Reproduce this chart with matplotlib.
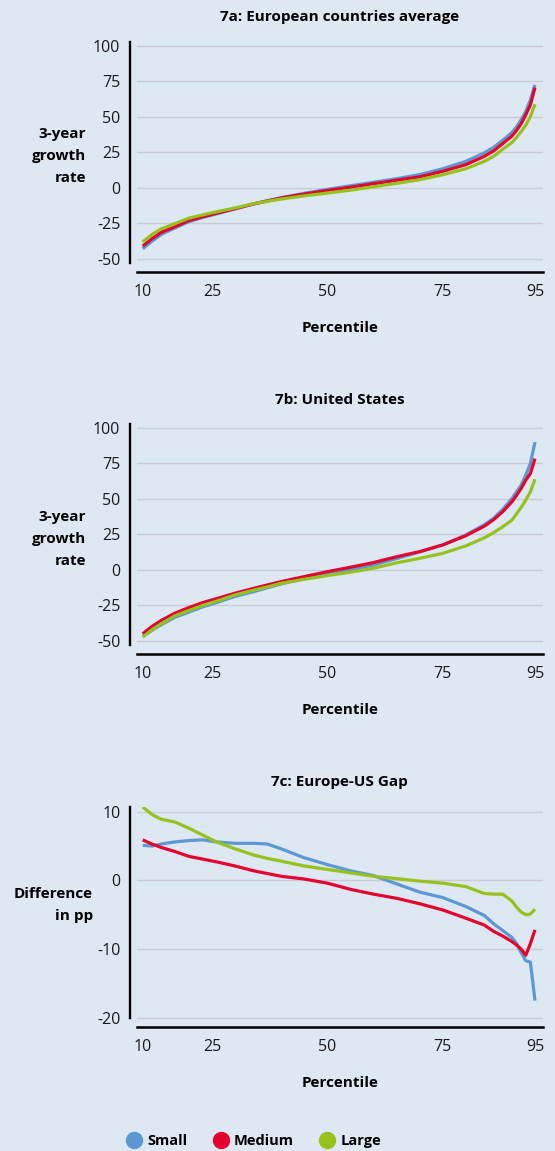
import matplotlib
matplotlib.use("Agg")
import matplotlib.pyplot as plt
from matplotlib.lines import Line2D

plt.rcParams['font.family'] = ['Open Sans', 'DejaVu Sans']
plt.rcParams['axes.unicode_minus'] = False

# percentiles shared by all panels
pct = [10, 12, 14, 17, 20, 23, 26, 30, 34, 37, 40, 45, 50, 55, 60, 65, 70,
       75, 80, 84, 86, 88, 90, 91, 92, 93, 94, 95]

# 7a: European countries average
eu_small = [-43.1, -37.7, -33.0, -28.3, -24.0, -21.0, -18.5, -15.0, -11.5, -9.2,
            -7.0, -4.0, -1.2, 1.3, 3.8, 6.3, 9.2, 13.3, 18.5, 24.5, 28.3, 33.3,
            38.8, 42.8, 47.8, 53.6, 61.8, 72.4]
eu_medium = [-41.2, -36.0, -31.5, -27.5, -23.2, -20.5, -18.0, -14.8, -11.5, -9.4,
             -7.3, -4.5, -2.0, 0.3, 2.8, 5.2, 7.6, 11.5, 16.2, 22.0, 25.8, 31.0,
             36.3, 40.3, 45.0, 51.3, 58.3, 70.5]
eu_large = [-38.2, -33.0, -29.0, -25.3, -21.5, -19.2, -17.0, -14.3, -11.3, -9.6,
            -8.0, -5.8, -3.8, -1.8, 0.6, 3.0, 5.6, 9.1, 13.3, 18.5, 22.0, 27.0,
            31.8, 35.3, 39.5, 44.0, 50.0, 58.8]

# 7b: United States
us_small = [-46.8, -42.6, -38.6, -33.3, -29.7, -26.0, -23.0, -18.7, -15.3, -12.6,
            -9.8, -6.3, -3.0, 0.0, 3.5, 8.0, 12.7, 17.6, 24.6, 31.8, 36.3, 42.6,
            50.3, 55.0, 59.7, 66.7, 75.0, 90.1]
us_medium = [-45.0, -39.8, -35.6, -30.4, -26.5, -23.0, -20.2, -16.4, -13.0, -10.6,
             -8.2, -4.7, -1.2, 1.9, 5.2, 9.3, 12.9, 17.6, 24.1, 30.8, 35.3, 41.0,
             48.0, 52.5, 57.4, 63.2, 67.9, 78.4]
us_large = [-47.3, -42.2, -37.9, -32.3, -28.6, -25.0, -22.0, -17.6, -14.3, -12.0,
            -9.4, -6.6, -4.0, -1.6, 1.2, 5.0, 8.2, 11.7, 16.9, 22.6, 26.2, 30.4,
            35.1, 39.5, 44.0, 49.2, 55.0, 63.9]

# 7c: Europe-US gap (pp)
gap_small = [5.1, 5.0, 5.3, 5.6, 5.8, 5.9, 5.6, 5.4, 5.4, 5.3, 4.6, 3.3, 2.3, 1.4,
             0.7, -0.5, -1.7, -2.5, -3.8, -5.1, -6.3, -7.3, -8.3, -9.2, -10.5,
             -11.7, -11.9, -17.5]
gap_medium = [5.9, 5.3, 4.8, 4.2, 3.5, 3.1, 2.7, 2.1, 1.4, 1.0, 0.6, 0.2, -0.4,
              -1.3, -2.0, -2.6, -3.4, -4.3, -5.5, -6.5, -7.4, -8.1, -8.9, -9.4,
              -10.0, -10.9, -9.2, -7.2]
gap_large = [10.7, 9.6, 8.9, 8.5, 7.6, 6.6, 5.6, 4.6, 3.7, 3.2, 2.8, 2.1, 1.6, 1.1,
             0.6, 0.25, -0.1, -0.4, -0.9, -1.9, -2.0, -2.0, -3.0, -3.9, -4.6,
             -5.0, -4.9, -4.2]

labels = ['Small', 'Medium', 'Large']
colors = ['#5b98d4', '#e4032e', '#97c21e']
bg = '#dde8f3'
gridc = '#c9cdd2'

W, H = 555, 1151
fig = plt.figure(figsize=(W / 100, H / 100), dpi=100, facecolor=bg)


def make_panel(top, bottom, ylim, yticks, spine_low, title, ylabel, ylab_right, ylab_y, series):
    ax = fig.add_axes([136.7 / W, 1 - bottom / H, 406 / W, (bottom - top) / H])
    ax.set_facecolor(bg)
    for vals, c in zip(series, colors):
        ax.plot(pct, vals, color=c, lw=2.3, solid_capstyle='butt')
    ax.set_xlim(8.7, 96.67)
    ax.set_ylim(*ylim)
    ax.set_xticks([10, 25, 50, 75, 95])
    ax.set_yticks(yticks)
    ax.grid(axis='y', color=gridc, lw=1)
    ax.yaxis.get_gridlines()[0].set_visible(False)
    ax.set_axisbelow(True)
    ax.spines['top'].set_visible(False)
    ax.spines['right'].set_visible(False)
    ax.spines['left'].set_position(('outward', 4.8))
    ax.spines['left'].set_bounds(spine_low, ylim[1])
    ax.spines['left'].set_linewidth(1.7)
    ax.spines['bottom'].set_linewidth(1.8)
    ax.tick_params(axis='both', length=0, labelsize=11.5, colors='#1a1a1a')
    ax.tick_params(axis='y', pad=7)
    ax.tick_params(axis='x', pad=9)
    ax.set_xlabel('Percentile', fontsize=11, fontweight='bold', labelpad=15)
    fig.text(339.7 / W, 1 - (top - 24.5) / H, title, ha='center', va='center',
             fontsize=11, fontweight='bold')
    fig.text(ylab_right / W, 1 - ylab_y / H, ylabel, ha='right', va='center',
             multialignment='right', fontsize=11, fontweight='bold', linespacing=1.75)
    return ax


make_panel(41.7, 271.7, (-59.2, 102.8), [-50, -25, 0, 25, 50, 75, 100], -53.0,
           '7a: European countries average', '3-year\ngrowth\nrate', 86, 156,
           [eu_small, eu_medium, eu_large])
make_panel(424.0, 654.0, (-59.2, 102.8), [-50, -25, 0, 25, 50, 75, 100], -53.0,
           '7b: United States', '3-year\ngrowth\nrate', 86, 539,
           [us_small, us_medium, us_large])
make_panel(806.7, 1026.7, (-21.3, 10.73), [-20, -10, 0, 10], -20.06,
           '7c: Europe-US Gap', 'Difference\nin pp', 93, 905,
           [gap_small, gap_medium, gap_large])

handles = [Line2D([], [], ls='none', marker='o', ms=11.5, color=c) for c in colors]
fig.legend(handles, labels, loc='center', bbox_to_anchor=(254 / W, 1 - 1140.7 / H),
           ncol=3, frameon=False, handlelength=1.0, handletextpad=0.4,
           columnspacing=1.8, prop={'weight': 'bold', 'size': 10.5})

fig.savefig('out.png', dpi=100, facecolor=bg)
